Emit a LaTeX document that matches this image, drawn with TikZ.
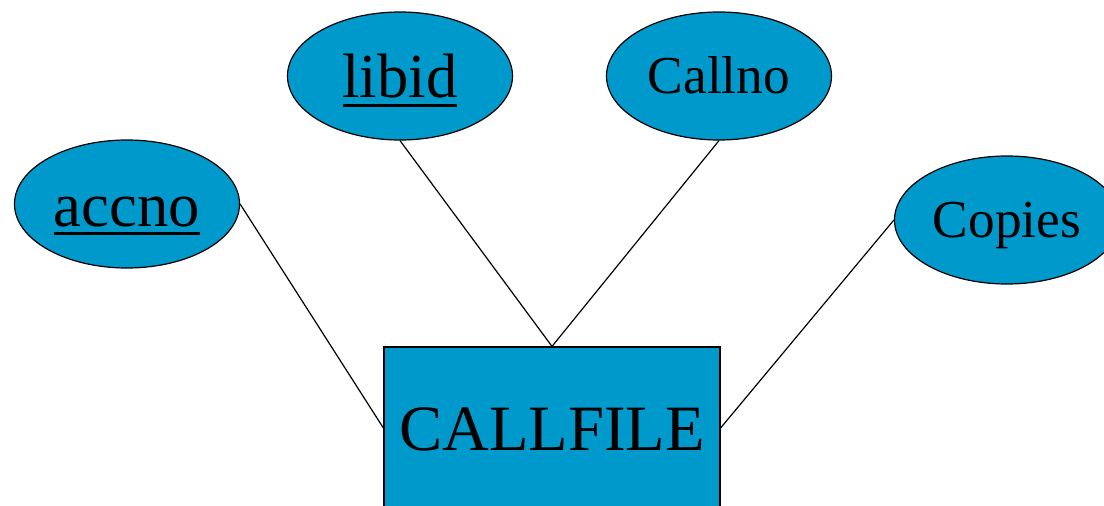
\documentclass[tikz,border=0pt]{standalone}
\usepackage{fontspec}
\setmainfont{Liberation Serif}
\usetikzlibrary{shapes.geometric}
\definecolor{erblue}{RGB}{0,153,204}
\tikzset{every picture/.style={line width=0.9pt}}
\newcommand{\keytext}[1]{\setbox0\hbox{#1}\rlap{\raisebox{-6.5pt}[0pt][0pt]{\rule{\wd0}{2.2pt}}}\box0}

\begin{document}
\begin{tikzpicture}[
            x=0.75pt,
            y=0.75pt,
            yscale=-1,
            xscale=1,
            attr/.style={ellipse,draw=black,fill=erblue,inner sep=0pt,minimum width=168.75pt,minimum height=96pt},
            entity/.style={rectangle,draw=black,fill=erblue,inner sep=0pt,minimum width=252pt,minimum height=121.5pt},
            link/.style={draw=black},
            bigfont/.style={font=\fontsize{47}{52}\selectfont,text height=42pt,text depth=8pt},
            smallfont/.style={font=\fontsize{40}{44}\selectfont,text height=36pt,text depth=9pt},
            every node/.style={text=black},
            line width=0.9pt
        ]
            \clip (0,0) rectangle (1104,506);
            % attributes
            \node[attr,bigfont] (accno) at (127,204) {\keytext{accno}};
            \node[attr,bigfont,text depth=9pt] (libid) at (400,76) {\keytext{libid}};
            \node[attr,smallfont] (callno) at (719,76) {Callno};
            \node[attr,smallfont] (copies) at (1007,220) {Copies};
            % entity
            \node[entity,font=\fontsize{48.5}{53}\selectfont,text height=42pt,text depth=8pt] (callfile) at (552,428) {CALLFILE};
            % links
            \draw[link] (accno.east) -- (callfile.west);
            \draw[link] (libid.south) -- (callfile.north);
            \draw[link] (callno.south) -- (callfile.north);
            \draw[link] (copies.west) -- (callfile.east);
        \end{tikzpicture}
\end{document}
